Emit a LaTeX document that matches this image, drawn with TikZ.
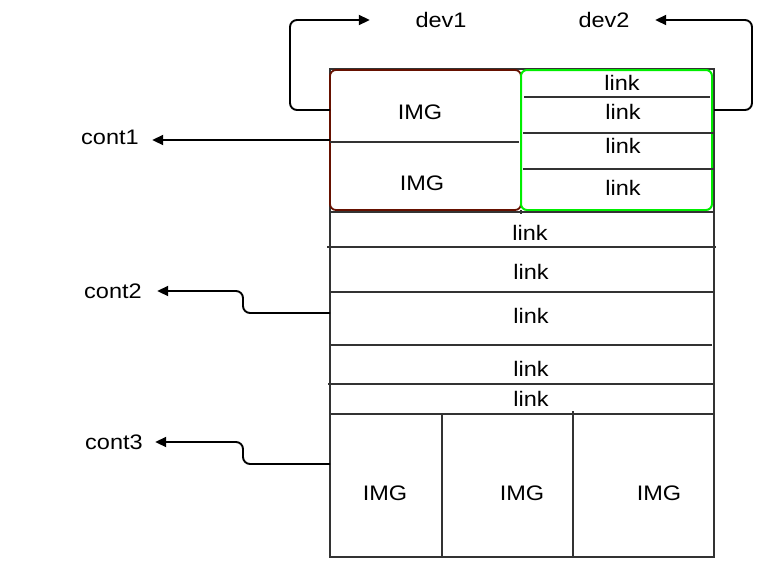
\documentclass[tikz,border=0pt]{standalone}
\usepackage{fontspec}
\setmainfont{Liberation Sans}[FakeStretch=1.12]
\usetikzlibrary{arrows.meta}
\definecolor{boxline}{HTML}{333333}
\definecolor{redline}{HTML}{661100}
\definecolor{greenline}{HTML}{00EE00}
\tikzset{
  txt/.style={font=\fontsize{21}{25}\selectfont, inner sep=0pt, text=black},
  sep/.style={draw=boxline, line width=1.9pt},
  conn/.style={draw=black, line width=1.9pt, rounded corners=7pt, -{Triangle[length=11pt,width=10pt]}},
}
\begin{document}
\begin{tikzpicture}[x=1pt,y=-1pt]
\useasboundingbox (0,0) rectangle (776,582);
% outer container
\node[draw=boxline, line width=1.9pt, minimum width=384pt, minimum height=488pt, inner sep=0pt] (outer) at (522,313) {};
% top-left (red) and top-right (green) groups
\node[draw=redline, line width=1.8pt, rounded corners=6pt, minimum width=191pt, minimum height=140pt, inner sep=0pt] (red) at (425.5,140) {};
\node[draw=greenline, line width=2pt, rounded corners=6pt, minimum width=191pt, minimum height=140pt, inner sep=0pt] (green) at (616.5,140) {};
% separators
\draw[sep] (330,142) -- (519,142);
\draw[sep] (524,97) -- (710,97);
\draw[sep] (523,133) -- (714,133);
\draw[sep] (523,169) -- (714,169);
\draw[sep] (330,212) -- (714,212);
\draw[sep] (521,210) -- (521,214);
\draw[sep] (327,247) -- (716,247);
\draw[sep] (330,292) -- (714,292);
\draw[sep] (331,345) -- (712,345);
\draw[sep] (328,384) -- (715,384);
\draw[sep] (330,414) -- (714,414);
\draw[sep] (442,414) -- (442,557);
\draw[sep] (573,411) -- (573,557);
% texts in boxes
\node[txt] (img1) at (420,112) {IMG};
\node[txt] (img2) at (422,183) {IMG};
\node[txt] (l1) at (622,83) {link};
\node[txt] (l2) at (623,112) {link};
\node[txt] (l3) at (623,146) {link};
\node[txt] (l4) at (623,188) {link};
\node[txt] (l5) at (530,233) {link};
\node[txt] (l6) at (531,272) {link};
\node[txt] (l7) at (531,316) {link};
\node[txt] (l8) at (531,369) {link};
\node[txt] (l9) at (531,399) {link};
\node[txt] (img3) at (385,493) {IMG};
\node[txt] (img4) at (522,493) {IMG};
\node[txt] (img5) at (659,493) {IMG};
% outside labels
\node[txt, minimum width=142pt] (dev1) at (441,20) {dev1};
\node[txt, minimum width=102pt] (dev2) at (604,20) {dev2};
\node[txt, minimum width=84pt] (cont1) at (110,137) {cont1};
\node[txt, minimum width=88pt] (cont2) at (113,291) {cont2};
\node[txt, minimum width=82pt] (cont3) at (114,442) {cont3};
% connector start points on the container border
\coordinate (s1) at (330,110);
\coordinate (s2) at (714,110);
\coordinate (s3) at (330,140);
\coordinate (s4) at (330,313);
\coordinate (s5) at (330,464);
% connectors
\draw[conn] (s1) -- (290,110) -- (290,20) -- (dev1.west);
\draw[conn] (s2) -- (752,110) -- (752,20) -- (dev2.east);
\draw[conn] (s3) -- (cont1.east |- s3);
\draw[conn] (s4) -- (243,313) -- (243,291) -- (cont2.east);
\draw[conn] (s5) -- (243,464) -- (243,442) -- (cont3.east);
\end{tikzpicture}
\end{document}
